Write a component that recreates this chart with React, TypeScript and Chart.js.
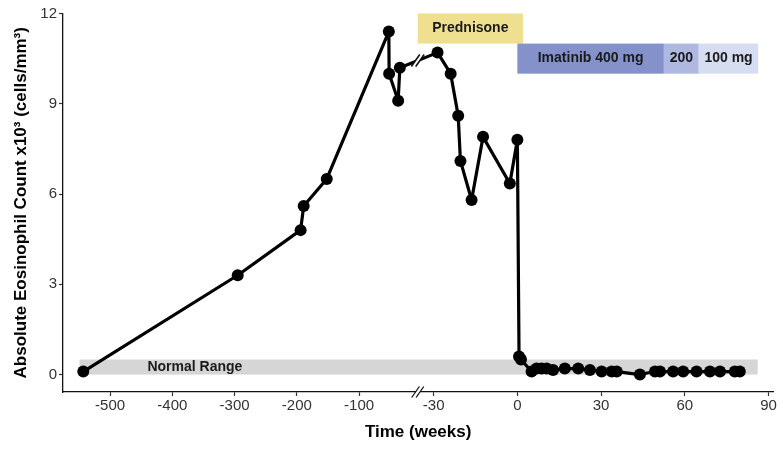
import React, { useEffect, useRef } from "react";
import { Chart, registerables } from "chart.js";

Chart.register(...registerables);

// ---- data (weeks relative to imatinib start, eosinophils x10^3 cells/mm^3) ----
const weeks = [
  -543, -295, -194, -189, -152, -52.3, -51.8, -37.3, -34.6,
  -28.6, -23.9, -21.2, -20.4, -16.4, -12.3, -2.7, 0, 0.6, 1.3,
  5.1, 6.9, 8.7, 10.5, 12.8, 17.0, 21.8, 26.0, 30.2, 33.8, 35.6,
  43.9, 49.3, 51.1, 55.8, 59.4, 64.2, 69.0, 72.6, 77.9, 79.7,
];
const eosinophils = [
  0.1, 3.3, 4.8, 5.6, 6.5, 11.4, 10.0, 9.1, 10.2,
  10.7, 10.0, 8.6, 7.1, 5.8, 7.9, 6.35, 7.8, 0.6, 0.5,
  0.1, 0.2, 0.2, 0.2, 0.15, 0.2, 0.2, 0.15, 0.1, 0.1, 0.1,
  0.0, 0.1, 0.1, 0.1, 0.1, 0.1, 0.1, 0.1, 0.1, 0.1,
];

const leftTickWeeks = [-500, -400, -300, -200, -100];
const rightTickWeeks = [-30, 0, 30, 60, 90];
const yTicks = [0, 3, 6, 9, 12];

const treatmentLabels = ["Prednisone", "Imatinib 400 mg", "200", "100 mg"];
const treatmentStartWeeks = [NaN, 0, 52.5, 65]; // NaN = starts at the axis break
const treatmentEndWeeks = [2, 52.5, 65, 86.3];
const treatmentLow = [11, 10, 10, 10];
const treatmentHigh = [12, 11, 11, 11];
const treatmentColors = ["#EFE08F", "#8491CB", "#AEB8E0", "#D6DDF0"];

const normalRangeLabel = "Normal Range";
const normalRangeWeeks = [-549, 86.1];
const normalRangeValues = [0, 0.5];
const normalRangeLabelWeek = -440;

// ---- broken axis configuration ----
const BREAK_WEEK = -32; // weeks before this use the compressed left segment
const LEFT_REF_WEEK = -100;
const LEFT_REF_POS = -56.7;
const LEFT_RATIO = 0.2231;
const BREAK_POS = -35.7;
const X_MIN = -162.8;
const X_MAX = 91.7;

function toAxis(w: number): number {
  return w < BREAK_WEEK ? LEFT_REF_POS + (w - LEFT_REF_WEEK) * LEFT_RATIO : w;
}

const tickWeeks = [...leftTickWeeks, ...rightTickWeeks];
const FONT = "'Liberation Sans', Arial, sans-serif";

function drawSlashes(ctx: CanvasRenderingContext2D, cx: number, cy: number, h: number, lw: number) {
  const gap = 2.2;
  const dx = h * 0.35;
  ctx.save();
  ctx.fillStyle = "#ffffff";
  ctx.beginPath();
  ctx.moveTo(cx - gap - dx, cy + h / 2);
  ctx.lineTo(cx - gap + dx, cy - h / 2);
  ctx.lineTo(cx + gap + dx, cy - h / 2);
  ctx.lineTo(cx + gap - dx, cy + h / 2);
  ctx.closePath();
  ctx.fill();
  ctx.strokeStyle = "#111";
  ctx.lineWidth = lw;
  for (const s of [-gap, gap]) {
    ctx.beginPath();
    ctx.moveTo(cx + s - dx, cy + h / 2);
    ctx.lineTo(cx + s + dx, cy - h / 2);
    ctx.stroke();
  }
  ctx.restore();
}

const annotationPlugin = {
  id: "annotations",
  beforeDatasetsDraw(chart: any) {
    const { ctx, scales } = chart;
    const x = scales.x;
    const y = scales.y;
    ctx.save();
    // normal range band
    const bx0 = x.getPixelForValue(toAxis(normalRangeWeeks[0]));
    const bx1 = x.getPixelForValue(toAxis(normalRangeWeeks[1]));
    const by0 = y.getPixelForValue(normalRangeValues[1]);
    const by1 = y.getPixelForValue(normalRangeValues[0]);
    ctx.fillStyle = "#D6D6D6";
    ctx.fillRect(bx0, by0, bx1 - bx0, by1 - by0);
    ctx.fillStyle = "#1a1a1a";
    ctx.font = `bold 14px ${FONT}`;
    ctx.textAlign = "left";
    ctx.textBaseline = "middle";
    ctx.fillText(
      normalRangeLabel,
      x.getPixelForValue(toAxis(normalRangeLabelWeek)),
      y.getPixelForValue((normalRangeValues[0] + normalRangeValues[1]) / 2)
    );
    // treatment boxes
    treatmentLabels.forEach((label, i) => {
      const sw = treatmentStartWeeks[i];
      const x0 = x.getPixelForValue(Number.isNaN(sw) ? BREAK_POS : toAxis(sw));
      const x1 = x.getPixelForValue(toAxis(treatmentEndWeeks[i]));
      const y0 = y.getPixelForValue(treatmentHigh[i]);
      const y1 = y.getPixelForValue(treatmentLow[i]);
      ctx.fillStyle = treatmentColors[i];
      ctx.fillRect(x0, y0, x1 - x0, y1 - y0);
      ctx.fillStyle = "#1a1a1a";
      ctx.font = `bold 14px ${FONT}`;
      ctx.textAlign = "center";
      ctx.textBaseline = "middle";
      ctx.fillText(label, (x0 + x1) / 2, (y0 + y1) / 2);
    });
    ctx.restore();
  },
  afterDraw(chart: any) {
    const { ctx, scales } = chart;
    const x = scales.x;
    const y = scales.y;
    const bx = x.getPixelForValue(BREAK_POS);
    drawSlashes(ctx, bx, y.bottom, 11, 1.3);
    const meta = chart.getDatasetMeta(0);
    for (let i = 0; i < weeks.length - 1; i++) {
      if (weeks[i] < BREAK_WEEK && weeks[i + 1] >= BREAK_WEEK) {
        const p0 = meta.data[i];
        const p1 = meta.data[i + 1];
        const t = (bx - p0.x) / (p1.x - p0.x);
        const ly = p0.y + t * (p1.y - p0.y);
        drawSlashes(ctx, bx, ly, 12, 1.6);
      }
    }
  },
};

export default function App() {
  const ref = useRef<HTMLCanvasElement>(null);
  useEffect(() => {
    const canvas = ref.current;
    if (!canvas) return;
    const chart = new Chart(canvas, {
      type: "line",
      data: {
        datasets: [
          {
            data: weeks.map((w, i) => ({ x: toAxis(w), y: eosinophils[i] })),
            borderColor: "#000",
            backgroundColor: "#000",
            borderWidth: 3.2,
            borderJoinStyle: "round",
            borderCapStyle: "round",
            pointRadius: 6,
            pointBackgroundColor: "#000",
            pointBorderWidth: 0,
            tension: 0,
            clip: false,
          } as any,
        ],
      },
      options: {
        animation: false,
        responsive: false,
        devicePixelRatio: 1,
        layout: { padding: { left: 0, right: 9.7, top: 13.5, bottom: 0 } },
        plugins: { legend: { display: false }, tooltip: { enabled: false } },
        scales: {
          x: {
            type: "linear",
            min: X_MIN,
            max: X_MAX,
            afterBuildTicks: (s: any) => {
              s.ticks = tickWeeks.map((w) => ({ value: toAxis(w) }));
            },
            afterFit: (s: any) => {
              s.height = 62;
              s.paddingLeft = 0;
              s.paddingRight = 0;
            },
            ticks: {
              autoSkip: false,
              maxRotation: 0,
              padding: 1,
              color: "#333",
              font: { family: FONT, size: 15 },
              callback: (_v: any, i: number) => String(tickWeeks[i]),
            },
            grid: {
              display: true,
              drawOnChartArea: false,
              drawTicks: true,
              tickLength: 4,
              tickColor: "#333",
              tickWidth: 1.2,
            },
            border: { display: true, color: "#111", width: 1.3 },
            title: {
              display: true,
              text: "Time (weeks)",
              color: "#000",
              font: { family: FONT, size: 17, weight: "bold" },
              padding: { top: 0, bottom: 11 },
            },
          },
          y: {
            type: "linear",
            min: -0.58,
            max: 12,
            afterBuildTicks: (s: any) => {
              s.ticks = yTicks.map((v) => ({ value: v }));
            },
            afterFit: (s: any) => {
              s.width = 63;
              s.paddingTop = 0;
              s.paddingBottom = 0;
            },
            ticks: {
              padding: 2,
              color: "#333",
              font: { family: FONT, size: 15 },
              callback: (v: any) => String(v),
            },
            grid: {
              display: true,
              drawOnChartArea: false,
              drawTicks: true,
              tickLength: 4,
              tickColor: "#333",
              tickWidth: 1.2,
            },
            border: { display: true, color: "#111", width: 1.3 },
            title: {
              display: true,
              text: "Absolute Eosinophil Count x10³ (cells/mm³)",
              color: "#000",
              font: { family: FONT, size: 17, weight: "bold" },
              padding: { top: 11, bottom: 0 },
            },
          },
        },
      },
      plugins: [annotationPlugin],
    } as any);
    return () => chart.destroy();
  }, []);
  return (
    <div style={{ position: "fixed", left: 0, top: 0, width: 783, height: 454, background: "#fff" }}>
      <canvas ref={ref} width={783} height={454} style={{ display: "block", width: 783, height: 454 }} />
    </div>
  );
}
